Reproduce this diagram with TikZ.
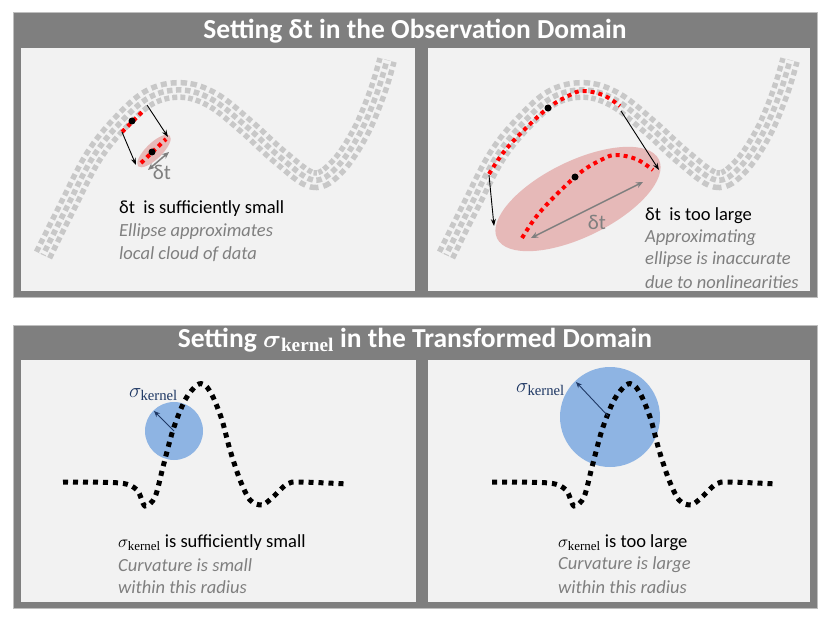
\documentclass[tikz,border=0pt]{standalone}
\usepackage{amsmath}
\usepackage[no-math]{fontspec}
\setmainfont{Carlito}
\newfontfamily\timesk{Liberation Serif}
\usetikzlibrary{arrows.meta,shapes.geometric}
\definecolor{frame}{HTML}{7F7F7F}
\definecolor{edge}{HTML}{BFBFBF}
\definecolor{panel}{HTML}{F2F2F2}
\definecolor{dotgray}{HTML}{C8C8C8}
\definecolor{pinkfill}{HTML}{E6B9B8}
\definecolor{bluefill}{HTML}{8EB4E3}
\definecolor{navy}{HTML}{1F3864}
\definecolor{txtgray}{HTML}{7F7F7F}
\newcommand{\sigk}{$\sigma_{\text{\timesk kernel}}$}
\tikzset{
  outerbox/.style={fill=frame, draw=edge, line width=1pt},
  panelbox/.style={fill=panel, draw=none},
  titletext/.style={text=white, font=\fontsize{27.5}{32}\selectfont\bfseries},
  band/.style={preaction={draw, dotgray, line width=20pt, dash pattern=on 5.5pt off 3.5pt},
               postaction={draw, panel, line width=9pt},
               postaction={draw, dotgray, line width=5.5pt, dash pattern=on 5.5pt off 3.5pt, dash phase=4.5pt}},
  reddash/.style={draw=red, line width=4pt, dash pattern=on 4pt off 4pt},
  blackdash/.style={draw=black, line width=5pt, dash pattern=on 5pt off 5pt},
  blackdot/.style={circle, fill=black, inner sep=0pt, minimum size=7pt},
  maparrow/.style={draw=black, line width=0.9pt, -{Stealth[length=7pt,width=5pt]}},
  dtarrow/.style={draw=txtgray, line width=1.5pt, {Stealth[length=7pt,width=6pt]}-{Stealth[length=7pt,width=6pt]}},
  sigarrow/.style={draw=navy, line width=0.9pt, -{Stealth[length=6pt,width=5pt]}},
  maintext/.style={anchor=west, inner sep=0pt, font=\fontsize{18.5}{22}\selectfont},
  graytext/.style={anchor=west, inner sep=0pt, text=txtgray, font=\fontsize{18.5}{22}\selectfont\itshape},
  dtlabel/.style={text=txtgray, inner sep=0pt, font=\fontsize{21}{24}\selectfont},
  siglabel/.style={text=navy, inner sep=0pt, font=\fontsize{21}{24}\selectfont}
}
\begin{document}
\begin{tikzpicture}[x=1pt,y=-1pt]
\useasboundingbox (0,0) rectangle (830,623);
\fill[white] (0,0) rectangle (830,623);

% ---------- top box ----------
\draw[outerbox] (13,13) rectangle (817,297);
\fill[panelbox] (21,48) rectangle (415,291);
\fill[panelbox] (428,48) rectangle (810,291);
\node[titletext] (title1) at (415,31) {Setting δt in the Observation Domain};

% bands
\path[band] plot[smooth, tension=0.6] coordinates {(43,255) (67,207) (93,157) (120,123) (150,97) (182,90) (213,100) (247,127) (280,157) (313,180) (337,167) (360,133) (377,93) (387,60)};
\begin{scope}[xshift=403pt]
\path[band] plot[smooth, tension=0.6] coordinates {(43,255) (67,207) (93,157) (120,123) (150,97) (182,90) (213,100) (247,127) (280,157) (313,180) (337,167) (360,133) (377,93) (387,60)};
\end{scope}

% left: small delta t
\node[fill=pinkfill, ellipse, draw=none, minimum width=44pt, minimum height=16pt, inner sep=0pt, rotate=44] (ellL) at (154,151) {};
\coordinate (uA) at (122,132);
\coordinate (uB) at (144,110);
\coordinate (lA) at (141,163);
\coordinate (lB) at (166,139);
\draw[reddash] (uA) -- (uB);
\draw[reddash] (lA) -- (lB);
\node[blackdot] (dotU) at (132,121) {};
\node[blackdot] (dotL) at (152,152) {};
\coordinate (arr1e) at (136,165);
\coordinate (arr2s) at (147,105);
\coordinate (arr2e) at (168,137);
\draw[maparrow] (uA) -- (arr1e);
\draw[maparrow] (arr2s) -- (arr2e);
\coordinate (dtl1) at (148,170);
\coordinate (dtl2) at (169,152);
\draw[dtarrow] (dtl1) -- (dtl2);
\node[dtlabel] (dtlabL) at (162,172) {δt};
\node[maintext] (txtL1) at (119,209) {δt\ \ is sufficiently small};
\node[graytext] (txtL2) at (119,232) {Ellipse approximates};
\node[graytext] (txtL3) at (119,254) {local cloud of data};

% right: large delta t
\node[fill=pinkfill, ellipse, draw=none, minimum width=180pt, minimum height=76pt, inner sep=0pt, rotate=26] (ellR) at (578,199) {};
\draw[reddash] plot[smooth, tension=0.6] coordinates {(489,174) (503,153) (522,132) (548,108) (570,95) (583,91) (603,95) (620,106)};
\begin{scope}[shift={(33pt,-64pt)}]
\draw[reddash] plot[smooth, tension=0.6] coordinates {(489,174) (503,153) (522,132) (548,108) (570,95) (583,91) (603,95) (620,106)};
\end{scope}
\node[blackdot] (dotRU) at (548,108) {};
\node[blackdot] (dotRL) at (575,177) {};
\coordinate (rA) at (489,175);
\coordinate (rAe) at (494,226);
\coordinate (rB) at (621,111);
\coordinate (rBe) at (659,170);
\draw[maparrow] (rA) -- (rAe);
\draw[maparrow] (rB) -- (rBe);
\coordinate (dtr1) at (531,238);
\coordinate (dtr2) at (643,182);
\draw[dtarrow] (dtr1) -- (dtr2);
\node[dtlabel] (dtlabR) at (597,222) {δt};
\node[maintext] (txtR1) at (645,216) {δt\ \ is too large};
\node[graytext] (txtR2) at (645,238) {Approximating};
\node[graytext] (txtR3) at (645,260) {ellipse is inaccurate};
\node[graytext] (txtR4) at (645,282) {due to nonlinearities};

% ---------- bottom box ----------
\draw[outerbox] (13,325) rectangle (817,608);
\fill[panelbox] (21,360) rectangle (416,602);
\fill[panelbox] (428,360) rectangle (810,602);
\node[titletext] (title2) at (415,340) {Setting $\boldsymbol{\sigma}_{\text{\timesk\bfseries kernel}}$ in the Transformed Domain};

% left kernel
\node[circle, fill=bluefill, minimum size=58pt, inner sep=0pt] (circL) at (174,431) {};
\draw[blackdash] plot[smooth, tension=0.5] coordinates {(63,482) (120,483) (137,490) (145,506) (155,497) (163,467) (173,430) (185,400) (197,385) (205,385) (213,397) (222,420) (230,450) (240,480) (250,500) (262,505) (273,497) (287,484) (300,482) (348,484)};
\coordinate (sigLe) at (154,411);
\draw[sigarrow] (circL.center) -- (sigLe);
\node[siglabel, anchor=east] (sigL) at (178,395) {\sigk};
\node[maintext] (txtB1) at (118,543) {\sigk\ is sufficiently small};
\node[graytext] (txtB2) at (118,565) {Curvature is small};
\node[graytext] (txtB3) at (118,587) {within this radius};

% right kernel
\node[circle, fill=bluefill, minimum size=100pt, inner sep=0pt] (circR) at (610,417) {};
\begin{scope}[xshift=429pt]
\draw[blackdash] plot[smooth, tension=0.5] coordinates {(63,482) (120,483) (137,490) (145,506) (155,497) (163,467) (173,430) (185,400) (197,385) (205,385) (213,397) (222,420) (230,450) (240,480) (250,500) (262,505) (273,497) (287,484) (300,482) (348,484)};
\end{scope}
\coordinate (sigRs) at (608,416);
\coordinate (sigRe) at (576,382);
\draw[sigarrow] (sigRs) -- (sigRe);
\node[siglabel, anchor=east] (sigR) at (565,390) {\sigk};
\node[maintext] (txtB4) at (558,543) {\sigk\ is too large};
\node[graytext] (txtB5) at (558,565) {Curvature is large};
\node[graytext] (txtB6) at (558,587) {within this radius};
\end{tikzpicture}
\end{document}
